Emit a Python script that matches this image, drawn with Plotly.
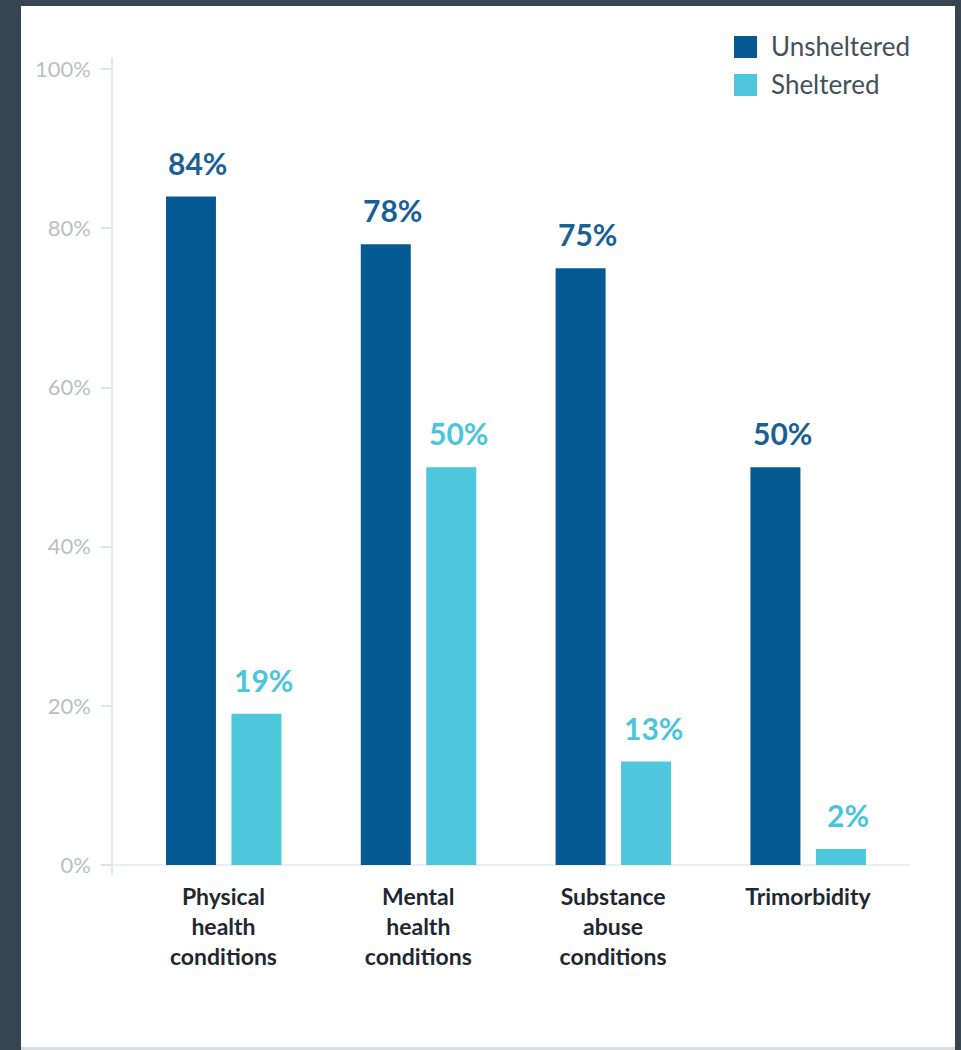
import plotly.graph_objects as go

# Health conditions among people experiencing homelessness
categories = ["Physical health conditions", "Mental health conditions",
              "Substance abuse conditions", "Trimorbidity"]
tick_labels = ["Physical<br>health<br>conditions", "Mental<br>health<br>conditions",
               "Substance<br>abuse<br>conditions", "Trimorbidity"]
unsheltered = [84, 78, 75, 50]
sheltered = [19, 50, 13, 2]
series_names = ["Unsheltered", "Sheltered"]
y_ticks = [0, 20, 40, 60, 80, 100]
y_tick_text = [f"{v}%" for v in y_ticks]

DARK_BLUE = "#065a93"
CYAN = "#4ec7dd"
FRAME = "#36454f"

W, H = 961, 1050
PLOT_L, PLOT_R, PLOT_T, PLOT_B = 113, 910, 58, 875


def px_x(px):
    return (px - PLOT_L) / (PLOT_R - PLOT_L)


def px_y(py):
    return (PLOT_B - py) / (PLOT_B - PLOT_T)


UNIT = 194.83          # pixels per category step
BAR_W = 50 / UNIT

fig = go.Figure()
fig.add_trace(go.Bar(x=categories, y=unsheltered, name=series_names[0],
                     marker=dict(color=DARK_BLUE, line=dict(width=0)),
                     width=BAR_W, offset=-57.5 / UNIT, showlegend=False))
fig.add_trace(go.Bar(x=categories, y=sheltered, name=series_names[1],
                     marker=dict(color=CYAN, line=dict(width=0)),
                     width=BAR_W, offset=8.0 / UNIT, showlegend=False))

annotations = []
for cat, v in zip(categories, unsheltered):
    annotations.append(dict(x=cat, y=v, xref="x", yref="y", text=f"{v}%",
                            showarrow=False, xanchor="center", yanchor="bottom",
                            xshift=-25.5, yshift=14,
                            font=dict(family="Lato", size=30, color="#1a5f95", weight="bold")))
for cat, v in zip(categories, sheltered):
    annotations.append(dict(x=cat, y=v, xref="x", yref="y", text=f"{v}%",
                            showarrow=False, xanchor="center", yanchor="bottom",
                            xshift=40, yshift=14,
                            font=dict(family="Lato", size=30, color="#4cc5db", weight="bold")))

# legend drawn by hand: swatches plus labels
legend_rows = [(36, DARK_BLUE), (74, CYAN)]
shapes = [
    # white card on the dark frame
    dict(type="rect", xref="paper", yref="paper", layer="below",
         x0=px_x(21), x1=px_x(955), y0=px_y(1047), y1=px_y(6),
         fillcolor="white", line=dict(width=0)),
    dict(type="rect", xref="paper", yref="paper", layer="below",
         x0=px_x(21), x1=px_x(955), y0=px_y(1050), y1=px_y(1047),
         fillcolor="#d9dde0", line=dict(width=0)),
    # baseline
    dict(type="line", xref="paper", yref="y", x0=px_x(102), x1=px_x(910), y0=0, y1=0,
         line=dict(color="#e3e8ed", width=1.5), layer="below"),
]
for (top, col), name in zip(legend_rows, series_names):
    shapes.append(dict(type="rect", xref="paper", yref="paper",
                       x0=px_x(734), x1=px_x(757), y0=px_y(top + 22), y1=px_y(top),
                       fillcolor=col, line=dict(width=0)))
    annotations.append(dict(x=px_x(769), y=px_y(top + 10), xref="paper", yref="paper",
                            text=name, showarrow=False, xanchor="left", yanchor="middle",
                            font=dict(family="Lato", size=26, color="#44505b")))

fig.update_layout(
    width=W, height=H,
    margin=dict(l=PLOT_L, r=W - PLOT_R, t=PLOT_T, b=H - PLOT_B, pad=0),
    paper_bgcolor=FRAME, plot_bgcolor="rgba(0,0,0,0)",
    barmode="overlay",
    shapes=shapes, annotations=annotations,
    xaxis=dict(range=[-0.567, 3.524], tickvals=categories, ticktext=tick_labels,
               showgrid=False, zeroline=False, showline=False, ticks="",
               ticklabelstandoff=6,
               tickfont=dict(family="Lato", size=23, color="#1f2830", weight="bold")),
    yaxis=dict(range=[-1.257, 101.42], tickvals=y_ticks, ticktext=y_tick_text,
               showgrid=False, zeroline=False, showline=True, linecolor="#e3e8ed",
               linewidth=1.5, ticks="outside", ticklen=10, tickcolor="#dfe4e9",
               tickwidth=1.5, ticklabelstandoff=6,
               tickfont=dict(family="Lato", size=22, color="#b9bfc5")),
    font=dict(family="Lato"),
)

fig.write_html("out.html")
